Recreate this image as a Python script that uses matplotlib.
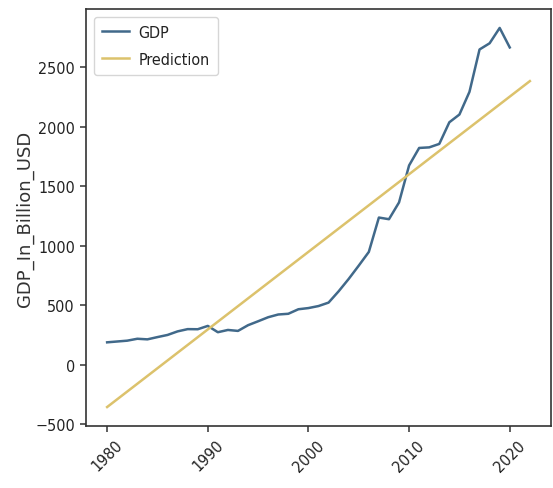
import numpy as np
import matplotlib
matplotlib.use("Agg")
import matplotlib.pyplot as plt

# India GDP, billion USD, 1980-2020
years = np.arange(1980, 2021)
gdp = [189, 196, 203, 219, 214, 233, 251, 281, 300, 299,
       327, 274, 293, 285, 333, 366, 400, 423, 429, 467,
       477, 494, 523, 618, 722, 834, 949, 1238, 1224, 1365,
       1676, 1823, 1828, 1857, 2039, 2104, 2295, 2651, 2703, 2832,
       2668]

# linear trend line (end points of the fitted model)
pred_years = [1980, 2022]
pred_values = [-355, 2385]

xticks = [1980, 1990, 2000, 2010, 2020]
yticks = [-500, 0, 500, 1000, 1500, 2000, 2500]

fig = plt.figure(figsize=(5.53, 4.89), dpi=100)
ax = fig.add_axes([0.1555, 0.1268, 0.8409, 0.8528])

ax.plot(years, gdp, color="#41698a", lw=1.8, label="GDP")
ax.plot(pred_years, pred_values, color="#dcc26c", lw=1.8, label="Prediction")

ax.set_xticks(xticks)
ax.set_yticks(yticks)
for lab in ax.get_xticklabels():
    lab.set_rotation(45)
for lab in ax.get_xticklabels() + ax.get_yticklabels():
    lab.set_family('DejaVu Sans')
    lab.set_stretch('condensed')
    lab.set_fontsize(11.5)
    lab.set_color("#222222")
ax.tick_params(length=4.5, width=1.1, color="#333333")

ax.set_ylabel("GDP_In_Billion_USD", fontsize=13, color="#333333")
ax.yaxis.set_label_coords(-0.112, 0.5)

for s in ax.spines.values():
    s.set_linewidth(1.2)
    s.set_color("#333333")

leg = ax.legend(loc="upper left",
                prop={'family': 'DejaVu Sans', 'stretch': 'condensed', 'size': 11.5},
                handlelength=1.7, handletextpad=0.6, borderpad=0.5,
                labelspacing=0.75)
for t in leg.get_texts():
    t.set_color("#222222")

fig.savefig("out.png", dpi=100)
